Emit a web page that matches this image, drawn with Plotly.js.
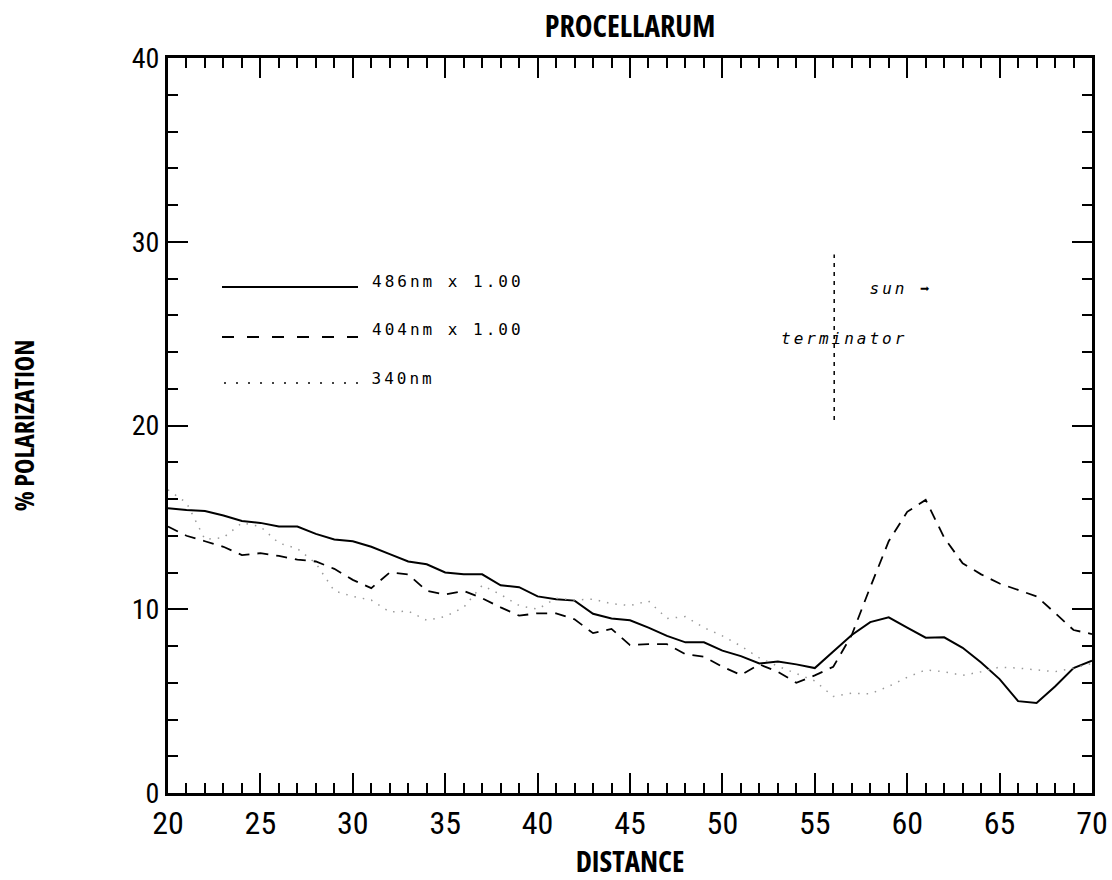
<!DOCTYPE html>
<html><head><meta charset="utf-8">
<script src="https://cdn.plot.ly/plotly-3.0.1.min.js"></script>
<style>
body{margin:0;background:#fff}
#c{width:1112px;height:880px}
.main-svg text{font-stretch:75%}
.main-svg .annotation-text{letter-spacing:3px}
</style>
</head><body><div id="c"></div>
<script>
const distance = [20,21,22,23,24,25,26,27,28,29,30,31,32,33,34,35,36,37,38,39,40,41,42,43,44,45,46,47,48,49,50,51,52,53,54,55,56,57,58,59,60,61,62,63,64,65,66,67,68,69,70];
const pol486 = [15.5,15.4,15.35,15.1,14.8,14.7,14.5,14.5,14.1,13.8,13.7,13.4,13.0,12.6,12.45,12.0,11.9,11.9,11.3,11.2,10.7,10.55,10.47,9.75,9.5,9.4,9.0,8.55,8.2,8.2,7.75,7.45,7.05,7.15,7.0,6.8,7.7,8.6,9.3,9.56,9.0,8.45,8.47,7.9,7.1,6.2,5.0,4.9,5.8,6.8,7.2];
const pol404 = [14.5,14.0,13.7,13.4,12.95,13.05,12.9,12.7,12.6,12.2,11.6,11.15,12.0,11.9,11.0,10.8,11.0,10.6,10.1,9.65,9.78,9.78,9.45,8.7,8.93,8.05,8.1,8.1,7.55,7.42,6.87,6.42,7.0,6.6,6.0,6.4,6.87,8.6,11.2,13.7,15.3,15.95,13.9,12.5,11.9,11.4,11.05,10.7,9.8,8.87,8.65];
const pol340 = [16.5,15.8,13.8,13.9,14.7,14.5,13.6,13.3,12.5,11.0,10.7,10.5,9.85,9.9,9.4,9.6,10.1,11.3,10.8,10.2,10.0,10.6,10.5,10.55,10.3,10.2,10.45,9.5,9.6,9.0,8.55,8.0,7.35,6.9,6.5,6.1,5.25,5.43,5.4,5.8,6.3,6.7,6.6,6.4,6.6,6.85,6.8,6.7,6.6,6.8,7.05];
const seriesLabels = ['486nm x 1.00','404nm x 1.00','340nm'];
const terminatorX = 56.05;
const terminatorY = [20.3, 29.3];

const tickFam = 'Roboto, "DejaVu Sans", sans-serif';
const titleFam = '"Open Sans", "DejaVu Sans", sans-serif';
const mono = '"DejaVu Sans Mono",monospace';

const traces = [
  {x: distance, y: pol486, mode:'lines', line:{color:'#000', width:2}, name: seriesLabels[0]},
  {x: distance, y: pol404, mode:'lines', line:{color:'#000', width:1.8, dash:'11px,8px'}, name: seriesLabels[1]},
  {x: distance, y: pol340, mode:'lines', line:{color:'#9a9a9a', width:1.5, dash:'1.5px,7px'}, name: seriesLabels[2]},
  {x: [terminatorX, terminatorX], y: terminatorY, mode:'lines', line:{color:'#000', width:1.5, dash:'4px,5px'}, showlegend:false}
];

function px2paperX(p){return (p-168)/924;}
function px2paperY(p){return (793-p)/735;}

const shapes = [
  {type:'line', xref:'paper', yref:'paper', x0:px2paperX(222), x1:px2paperX(358), y0:px2paperY(287), y1:px2paperY(287), line:{color:'#000', width:1.8}},
  {type:'line', xref:'paper', yref:'paper', x0:px2paperX(222), x1:px2paperX(358), y0:px2paperY(337), y1:px2paperY(337), line:{color:'#000', width:1.8, dash:'12px,13px'}},
  {type:'line', xref:'paper', yref:'paper', x0:px2paperX(224), x1:px2paperX(358), y0:px2paperY(383), y1:px2paperY(383), line:{color:'#444', width:1.8, dash:'2px,10px'}}
];

const annFont = {family: mono, size: 16, color:'#000'};
const annotations = [
  {xref:'paper', yref:'paper', x:px2paperX(448), y:px2paperY(281), xanchor:'center', yanchor:'middle', text:seriesLabels[0], showarrow:false, font:annFont},
  {xref:'paper', yref:'paper', x:px2paperX(448), y:px2paperY(329), xanchor:'center', yanchor:'middle', text:seriesLabels[1], showarrow:false, font:annFont},
  {xref:'paper', yref:'paper', x:px2paperX(403), y:px2paperY(378), xanchor:'center', yanchor:'middle', text:seriesLabels[2], showarrow:false, font:annFont},
  {xref:'paper', yref:'paper', x:px2paperX(844), y:px2paperY(339), xanchor:'center', yanchor:'middle', text:'<i>terminator</i>', showarrow:false, font:annFont},
  {xref:'paper', yref:'paper', x:px2paperX(901), y:px2paperY(288), xanchor:'center', yanchor:'middle', text:'<i>sun</i> <b>➡</b>', showarrow:false, font:annFont}
];

const layout = {
  width:1112, height:880,
  margin:{l:168, r:20, t:58, b:87},
  paper_bgcolor:'#fff', plot_bgcolor:'#fff',
  showlegend:false,
  title:{text:'<b>PROCELLARUM</b>', x:0.5, xref:'paper', xanchor:'center', y:1-26/880, yanchor:'middle', font:{family:titleFam, size:30, color:'#000'}},
  xaxis:{range:[20,70], tick0:20, dtick:5, ticks:'inside', ticklen:20, tickwidth:2, tickcolor:'#000',
    minor:{dtick:1, ticks:'inside', ticklen:10, tickwidth:2, tickcolor:'#000'},
    showline:true, linewidth:3, linecolor:'#000', mirror:'ticks', showgrid:false, zeroline:false,
    tickfont:{family:tickFam, size:32, color:'#000'},
    title:{text:'<b>DISTANCE</b>', font:{family:titleFam, size:29, color:'#000'}, standoff:12}},
  yaxis:{range:[0,40], tick0:0, dtick:10, ticks:'inside', ticklen:20, tickwidth:2, tickcolor:'#000',
    minor:{dtick:2, ticks:'inside', ticklen:10, tickwidth:2, tickcolor:'#000'},
    showline:true, linewidth:3, linecolor:'#000', mirror:'ticks', showgrid:false, zeroline:false,
    tickfont:{family:tickFam, size:28, color:'#000'},
    title:{text:'<b>% POLARIZATION</b>', font:{family:titleFam, size:26, color:'#000'}, standoff:86}},
  shapes: shapes,
  annotations: annotations
};

Plotly.newPlot('c', traces, layout, {staticPlot:true});
</script></body></html>
